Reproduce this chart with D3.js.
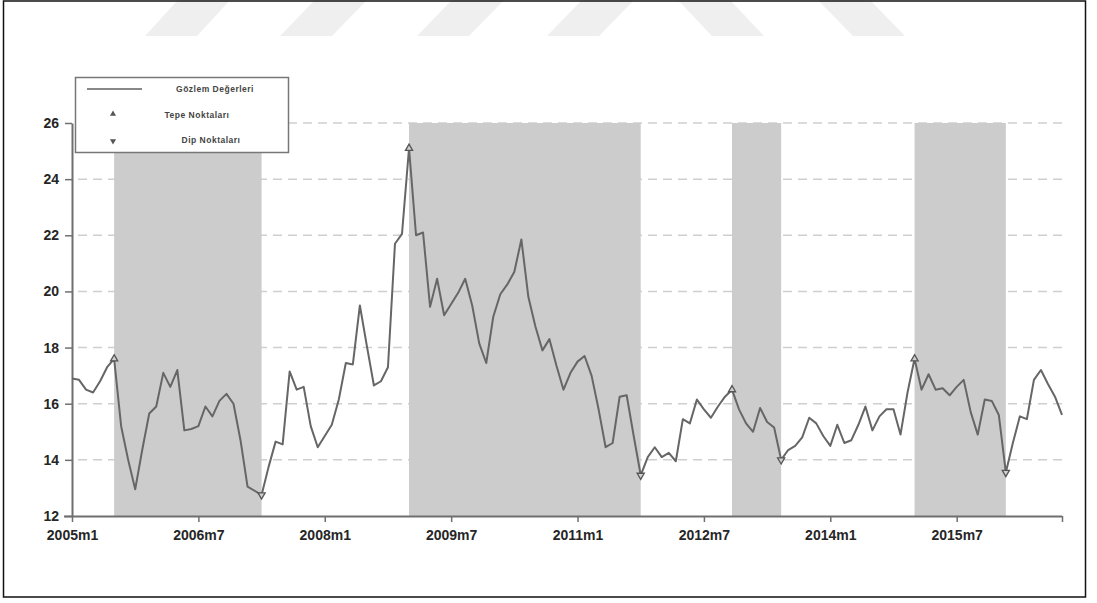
<!DOCTYPE html>
<html>
<head>
<meta charset="utf-8">
<script src="https://cdnjs.cloudflare.com/ajax/libs/d3/7.8.5/d3.min.js"></script>
<style>
  body { margin: 0; background: #fff; }
  svg { display: block; font-family: "Liberation Sans", Arial, sans-serif; }
</style>
</head>
<body>
<div id="chart"></div>
<script>
// monthly observations, 2005m1 .. 2016m10
var startYear = 2005;
var values = [
  16.9, 16.85, 16.5, 16.4, 16.8, 17.3, 17.6, 15.2, 14.0, 12.95, 14.35, 15.65,
  15.9, 17.1, 16.6, 17.2, 15.05, 15.1, 15.2, 15.9, 15.55, 16.1, 16.35, 16.0,
  14.7, 13.05, 12.9, 12.75, 13.75, 14.65, 14.55, 17.15, 16.5, 16.6, 15.2, 14.45,
  14.85, 15.25, 16.15, 17.45, 17.4, 19.5, 18.05, 16.65, 16.8, 17.3, 21.7, 22.05,
  25.1, 22.0, 22.1, 19.45, 20.45, 19.15, 19.55, 19.95, 20.45, 19.5, 18.15, 17.45,
  19.1, 19.9, 20.25, 20.7, 21.85, 19.8, 18.75, 17.9, 18.3, 17.35, 16.5, 17.1,
  17.5, 17.7, 17.0, 15.8, 14.45, 14.6, 16.25, 16.3, 14.85, 13.45, 14.1, 14.45,
  14.1, 14.25, 13.95, 15.45, 15.3, 16.15, 15.8, 15.5, 15.9, 16.25, 16.5, 15.8,
  15.3, 15.0, 15.85, 15.35, 15.15, 14.0, 14.35, 14.5, 14.8, 15.5, 15.3, 14.85,
  14.5, 15.25, 14.6, 14.7, 15.25, 15.9, 15.05, 15.55, 15.8, 15.8, 14.9, 16.4,
  17.6, 16.5, 17.05, 16.5, 16.55, 16.3, 16.6, 16.85, 15.7, 14.9, 16.15, 16.1,
  15.6, 13.55, 14.6, 15.55, 15.45, 16.85, 17.2, 16.7, 16.25, 15.6
];
// turning points (peaks / troughs)
var peaks = ["2005m7", "2009m1", "2012m11", "2015m1"];
var troughs = ["2007m4", "2011m10", "2013m6", "2016m2"];
// x axis tick labels
var tickLabels = ["2005m1", "2006m7", "2008m1", "2009m7", "2011m1", "2012m7", "2014m1", "2015m7"];
var yTicks = [12, 14, 16, 18, 20, 22, 24, 26];
var legendLabels = ["Gözlem Değerleri", "Tepe Noktaları", "Dip Noktaları"];

// "2009m1" -> month index from start
function monthIndex(s) {
  var p = s.split("m");
  return (+p[0] - startYear) * 12 + (+p[1] - 1);
}

var W = 1097, H = 603;
var svg = d3.select("#chart").append("svg")
  .attr("width", W)
  .attr("height", H);

// watermark shapes at the top
var wm = [[178, 145], [315, 280], [452, 417], [582, 547], [678, 712], [818, 853]];
svg.selectAll(".wm")
  .data(wm)
  .enter()
  .append("path")
  .attr("d", function(d) {
    return "M" + d[0] + ",0 L" + (d[0] + 52) + ",0 L" + (d[1] + 52) + ",36 L" + d[1] + ",36 Z";
  })
  .style("fill", "#efefef");

// outer frame
svg.append("rect")
  .attr("x", 3.5).attr("y", 1)
  .attr("width", 1082).attr("height", 596)
  .style("fill", "none")
  .style("stroke", "#111")
  .style("stroke-width", 1.5);

var x = d3.scaleLinear()
  .domain([0, values.length - 1])
  .range([72, 1062]);
var y = d3.scaleLinear()
  .domain([12, 26])
  .range([516, 123]);

// dashed grid
svg.selectAll(".grid")
  .data(yTicks.slice(1))
  .enter()
  .append("line")
  .attr("x1", 78).attr("x2", 1062)
  .attr("y1", function(d) { return y(d); })
  .attr("y2", function(d) { return y(d); })
  .style("stroke", "#cfcfcf")
  .style("stroke-width", 1.5)
  .style("stroke-dasharray", "9,6");

// shaded periods from peak to trough
svg.selectAll(".band")
  .data(d3.zip(peaks, troughs))
  .enter()
  .append("rect")
  .attr("x", function(d) { return x(monthIndex(d[0])); })
  .attr("width", function(d) { return x(monthIndex(d[1])) - x(monthIndex(d[0])); })
  .attr("y", y(26))
  .attr("height", y(12) - y(26))
  .style("fill", "#cccccc");

// axes
var xAxis = svg.append("g")
  .attr("transform", "translate(0," + y(12) + ")")
  .call(d3.axisBottom(x)
    .tickValues(tickLabels.map(monthIndex).concat([values.length - 1]))
    .tickFormat(function(d, i) { return tickLabels[i] || ""; })
    .tickSize(6)
    .tickSizeOuter(0));
xAxis.select(".domain").attr("d", "M64,0.5H1062");
var yAxis = svg.append("g")
  .attr("transform", "translate(" + x(0) + ",0)")
  .call(d3.axisLeft(y).tickValues(yTicks).tickSize(7).tickSizeOuter(0));

[xAxis, yAxis].forEach(function(a) {
  a.selectAll(".domain").style("stroke", "#6f6f6f").style("stroke-width", 2);
  a.selectAll(".tick line").style("stroke", "#6f6f6f").style("stroke-width", 1.5);
  a.selectAll("text")
    .style("font-size", "14px")
    .style("font-weight", "bold")
    .style("fill", "#262626");
});
xAxis.selectAll("text").attr("y", 14);
yAxis.selectAll("text").attr("x", -13);

// series line
var line = d3.line()
  .x(function(d, i) { return x(i); })
  .y(function(d) { return y(d); });
svg.append("path")
  .datum(values)
  .attr("d", line)
  .style("fill", "none")
  .style("stroke", "#666")
  .style("stroke-width", 2)
  .style("stroke-linejoin", "round");

// turning point markers
var tri = d3.symbol().type(d3.symbolTriangle).size(22);
svg.selectAll(".peak")
  .data(peaks)
  .enter()
  .append("path")
  .attr("d", tri)
  .attr("transform", function(d) { var i = monthIndex(d); return "translate(" + x(i) + "," + y(values[i]) + ")"; })
  .style("fill", "#d0d0d0").style("stroke", "#555").style("stroke-width", 1.3);
svg.selectAll(".trough")
  .data(troughs)
  .enter()
  .append("path")
  .attr("d", tri)
  .attr("transform", function(d) { var i = monthIndex(d); return "translate(" + x(i) + "," + y(values[i]) + ") rotate(180)"; })
  .style("fill", "#d0d0d0").style("stroke", "#555").style("stroke-width", 1.3);

// legend box
var lg = svg.append("g");
lg.append("rect")
  .attr("x", 75.5).attr("y", 77.5)
  .attr("width", 213).attr("height", 75)
  .style("fill", "#fff")
  .style("stroke", "#777")
  .style("stroke-width", 1.5);
lg.append("line")
  .attr("x1", 87).attr("x2", 142).attr("y1", 89).attr("y2", 89)
  .style("stroke", "#888").style("stroke-width", 1.8);
lg.append("path")
  .attr("d", d3.symbol().type(d3.symbolTriangle).size(16))
  .attr("transform", "translate(113,114)")
  .style("fill", "#555");
lg.append("path")
  .attr("d", d3.symbol().type(d3.symbolTriangle).size(16))
  .attr("transform", "translate(113,141) rotate(180)")
  .style("fill", "#555");
lg.selectAll(".ltxt")
  .data(legendLabels)
  .enter()
  .append("text")
  .attr("x", function(d, i) { return [215, 197, 211][i]; })
  .attr("y", function(d, i) { return [92, 118, 143][i]; })
  .attr("text-anchor", "middle")
  .style("font-size", "8.5px")
  .style("font-weight", "bold")
  .style("letter-spacing", "0.5px")
  .style("fill", "#444")
  .text(function(d) { return d; });
</script>
</body>
</html>
